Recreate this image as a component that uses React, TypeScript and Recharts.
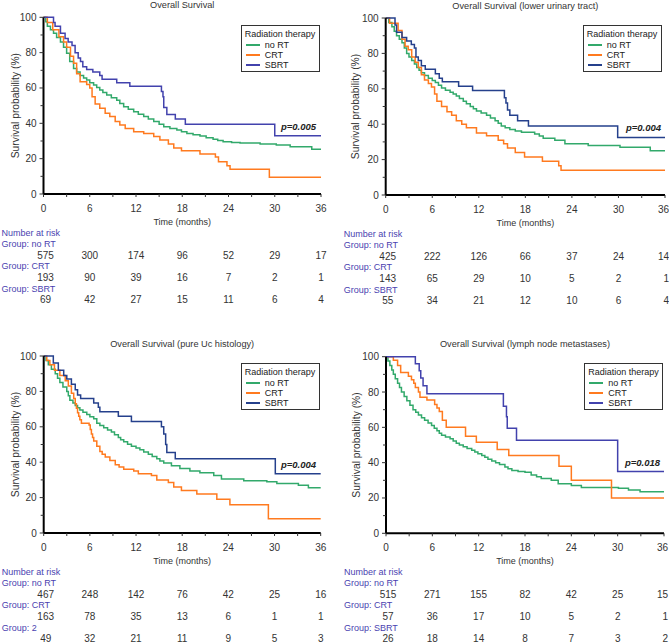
import { LineChart, Line, XAxis, YAxis, Legend } from 'recharts';

// ---- time grid shared by all panels ----
const xTicks = [0, 3, 6, 9, 12, 15, 18, 21, 24, 27, 30, 33, 36];
const yTicks = [0, 10, 20, 30, 40, 50, 60, 70, 80, 90, 100];
const riskMonths = [0, 6, 12, 18, 24, 30, 36];
const groupNames = ['no RT', 'CRT', 'SBRT'];

type Pt = [number, number];

// ---- Overall Survival ----
const osNoRT: Pt[] = [[0, 100], [0.3, 97.5], [0.5, 95], [0.9, 93], [1.3, 91], [1.7, 88.5], [2.2, 86], [2.6, 83], [3.0, 79.6], [3.4, 75], [3.9, 71], [4.3, 69], [4.75, 67], [5.2, 65.7], [5.6, 64.5], [6.0, 63], [6.5, 61.7], [6.9, 60.3], [7.3, 58.9], [7.7, 57.5], [8.2, 56], [8.8, 54.5], [9.5, 53], [9.9, 51.2], [10.4, 49.4], [11.0, 48], [11.7, 46.6], [12.3, 45.2], [13.0, 43.8], [13.6, 42.4], [14.3, 41], [15.0, 39.5], [15.6, 38], [16.4, 37.1], [17.3, 36.2], [17.9, 35.2], [18.6, 34.3], [19.4, 33.5], [20.3, 32.8], [21.1, 31.9], [22.0, 31], [22.6, 30.3], [23.3, 29.6], [24.4, 29.2], [25.5, 28.8], [28.1, 28.3], [30.2, 27.7], [32, 26.8], [34.8, 25.3], [36, 25.3]];
const osCRT: Pt[] = [[0, 100], [0.5, 97], [1.2, 93], [2.0, 89], [2.6, 86], [3.0, 83], [3.5, 78], [3.9, 74], [4.3, 68], [4.75, 63.5], [5.6, 62], [6.0, 60], [6.3, 55], [6.7, 51], [7.3, 48.5], [8.0, 45.7], [8.6, 43.8], [9.3, 41], [9.9, 39], [10.6, 37], [11.7, 35.3], [13.0, 34.3], [14.3, 32.5], [15.1, 30.6], [16.2, 28.3], [16.9, 26], [17.9, 24.5], [20.3, 22.6], [22.3, 21], [22.7, 18.3], [23.8, 16], [24.2, 14], [29.3, 9.5], [36, 9.5]];
const osSBRT: Pt[] = [[0, 100], [1.3, 97], [1.5, 95], [2.2, 91], [2.8, 88], [3.2, 86], [3.7, 84], [4.1, 80], [4.5, 77], [4.8, 75], [5.1, 72], [5.6, 70.5], [6.4, 69], [7.3, 67], [7.6, 65], [9.5, 63], [11.2, 61], [15.3, 58], [15.5, 55], [15.6, 49], [16.0, 45], [17.1, 42.5], [18.4, 39.5], [30.0, 33], [36, 33]];
const osRiskNoRT = [575, 300, 174, 96, 52, 29, 17];
const osRiskCRT = [193, 90, 39, 16, 7, 2, 1];
const osRiskSBRT = [69, 42, 27, 15, 11, 6, 4];

// ---- lower urinary tract ----
const lutNoRT: Pt[] = [[0, 100], [0.4, 97.5], [0.8, 95], [1.1, 92.5], [1.4, 90], [1.75, 88], [2.1, 86], [2.4, 83], [2.7, 80], [3.0, 78], [3.35, 76], [3.7, 74], [4.0, 72], [4.3, 70.5], [4.6, 69], [5.0, 67.5], [5.5, 66], [6.0, 64.7], [6.4, 63.5], [6.8, 62], [7.2, 60.5], [7.7, 59.2], [8.3, 58], [8.7, 57], [9.1, 56], [9.5, 54.5], [10.0, 53], [10.4, 51.5], [10.9, 50], [11.3, 48.7], [11.7, 47.5], [12.3, 46.3], [13.0, 45], [13.5, 43.5], [14.1, 42], [14.5, 40.5], [14.9, 39], [15.4, 38], [16.0, 37], [16.7, 36.2], [17.5, 35.5], [19.2, 34.5], [19.8, 33.3], [20.3, 32], [21.8, 31], [23.1, 29], [26.1, 28], [30.2, 27], [34.1, 25], [36, 25]];
const lutCRT: Pt[] = [[0, 100], [0.5, 97], [1.6, 93], [2.1, 88], [2.5, 84], [2.9, 82], [3.35, 78], [3.8, 75], [4.2, 72], [4.6, 68], [5.0, 65], [5.5, 63], [5.9, 61], [6.3, 57], [6.6, 53], [7.2, 50], [7.9, 47], [8.5, 45], [9.1, 42], [9.8, 40], [10.4, 38], [11.7, 35], [13.0, 33.5], [14.5, 31], [15.2, 29], [15.7, 26.5], [16.7, 24], [17.9, 21.5], [20.2, 19], [22.3, 16.5], [22.6, 14], [36, 14]];
const lutSBRT: Pt[] = [[0, 100], [1.2, 96], [1.4, 92], [2.1, 89], [2.7, 87], [3.3, 85], [3.7, 83], [3.9, 78], [4.2, 76], [4.6, 73], [5.1, 71], [6.4, 68.5], [6.9, 66], [7.3, 64], [9.4, 61.5], [11.2, 59], [15.3, 55], [15.5, 52], [15.7, 48], [16.0, 45], [17.0, 42], [18.4, 39], [29.9, 32.5], [36, 32.5]];
const lutRiskNoRT = [425, 222, 126, 66, 37, 24, 14];
const lutRiskCRT = [143, 65, 29, 10, 5, 2, 1];
const lutRiskSBRT = [55, 34, 21, 12, 10, 6, 4];

// ---- pure Uc histology ----
const ucNoRT: Pt[] = [[0, 100], [0.3, 97.5], [0.6, 95], [1.0, 92.5], [1.5, 90], [1.8, 87.5], [2.1, 85], [2.5, 82.5], [3.0, 80], [3.2, 77.5], [3.4, 75], [3.8, 73.5], [4.1, 72], [4.4, 70.8], [4.7, 69.5], [5.1, 68.2], [5.6, 67], [6.0, 65.7], [6.5, 64.5], [6.9, 62], [7.3, 60.8], [7.8, 59.5], [8.3, 58.2], [8.8, 57], [9.2, 55.5], [9.7, 54], [10.0, 52.7], [10.4, 51.5], [10.9, 50.2], [11.4, 49], [12.0, 48], [12.5, 47], [13.0, 45.8], [13.6, 44.5], [14.1, 43.2], [14.7, 42], [15.1, 40.7], [15.6, 39.5], [16.6, 38], [17.7, 36.5], [19.0, 35], [20.3, 34], [22.1, 32.5], [23.1, 30.5], [26.0, 29.5], [29.0, 29], [30.3, 28], [33.1, 27], [34.4, 25.5], [36, 25.5]];
const ucCRT: Pt[] = [[0, 100], [0.4, 97.5], [0.8, 95], [1.4, 92], [2.1, 89], [2.8, 86], [3.2, 83], [3.6, 79], [3.9, 76], [4.1, 73], [4.25, 70.5], [4.4, 68], [4.55, 66], [4.7, 64], [4.9, 62], [5.9, 61], [6.05, 58.5], [6.2, 56], [6.35, 54], [6.5, 52], [6.9, 49], [7.3, 46], [7.6, 44.5], [8.0, 43], [8.6, 41], [9.3, 38.5], [9.8, 37.3], [10.4, 36], [11.7, 35], [12.3, 33.5], [14.0, 32.5], [14.7, 30], [16.2, 28.5], [16.9, 26], [17.9, 24], [19.9, 22], [22.5, 19], [24.2, 16], [29.2, 8], [36, 8]];
const ucSBRT: Pt[] = [[0, 100], [1.25, 96], [1.9, 92], [2.6, 89], [3.0, 87], [3.6, 84], [4.1, 81], [4.4, 78], [4.8, 76], [6.5, 73.5], [7.1, 71], [7.3, 68.5], [9.7, 66], [11.4, 63], [15.3, 60], [15.6, 56], [15.85, 50], [16.0, 45.5], [17.1, 42], [30.1, 33.5], [36, 33.5]];
const ucRiskNoRT = [467, 248, 142, 76, 42, 25, 16];
const ucRiskCRT = [163, 78, 35, 13, 6, 1, 1];
const ucRiskSBRT = [49, 32, 21, 11, 9, 5, 3];

// ---- lymph node metastases ----
const lnNoRT: Pt[] = [[0, 100], [0.25, 97.5], [0.5, 95], [0.75, 92.5], [0.95, 90], [1.2, 87.5], [1.5, 85], [1.75, 82.5], [2.0, 80], [2.35, 77.5], [2.7, 75], [3.1, 72.5], [3.5, 70], [3.85, 68.5], [4.2, 67], [4.6, 65.5], [5.0, 64], [5.45, 62.5], [5.9, 61], [6.25, 59.5], [6.6, 58], [6.9, 56.7], [7.2, 55.5], [7.7, 54.5], [8.3, 53.5], [8.7, 52.2], [9.1, 51], [9.5, 50], [10.0, 49], [10.5, 48], [11.1, 47], [11.5, 46], [11.9, 45], [12.4, 44], [12.8, 43], [13.2, 42], [13.7, 41], [14.2, 40], [14.7, 39], [15.4, 37.5], [15.8, 36.5], [16.3, 35.5], [17.1, 35], [18.0, 34.5], [18.8, 33], [19.5, 32], [20.1, 31], [21.4, 30], [22.3, 28], [24.0, 27], [25.3, 26], [30.1, 25.5], [31.4, 24.5], [32.9, 23.5], [36, 23.5]];
const lnCRT: Pt[] = [[0, 100], [0.95, 98], [1.5, 95], [1.9, 91], [2.9, 89], [3.3, 87], [3.6, 85], [3.8, 82.5], [4.2, 80], [4.4, 77], [5.3, 75.5], [6.3, 73], [6.6, 71], [6.9, 69], [7.3, 64], [7.8, 60], [10.3, 55], [11.7, 51.5], [14.4, 47.5], [15.9, 44], [22.4, 38], [24.0, 30], [29.2, 20], [36, 20]];
const lnSBRT: Pt[] = [[0, 100], [3.8, 96], [4.3, 92], [4.5, 88], [4.8, 83.5], [5.3, 79], [15.2, 72], [15.6, 66], [15.7, 59.5], [16.9, 52.7], [30.0, 35], [36, 35]];
const lnRiskNoRT = [515, 271, 155, 82, 42, 25, 15];
const lnRiskCRT = [57, 36, 17, 10, 5, 2, 1];
const lnRiskSBRT = [26, 18, 14, 8, 7, 3, 2];

const FONT = '"Liberation Sans", Arial, sans-serif';
const GREEN = '#32a96b';
const ORANGE = '#ff7a1f';
const SLATE = '#4242ad';
const NAVY = '#25408c';
const LABEL_BLUE = '#4a3fb0';
const XAXIS_H = 20;

interface Box {
    left: number; top: number; w: number; h: number;
    plotL: number; plotR: number; plotT: number; plotB: number;
    yLabelX: number; legendX: number; legendY: number; pRight: number; pY: number;
}

interface PanelProps {
    box: Box;
    title: string;
    pValue: string;
    curves: Pt[][];
    risk: number[][];
    riskLabels: string[];
    sbrtColor: string;
}

const toRows = (pts: Pt[]) => pts.map(([t, s]) => ({ t, s }));

// eslint-disable-next-line @typescript-eslint/no-explicit-any
function XTick(props: any) {
    const { x, y, payload, risk, riskLabels, tightRight } = props;
    const v = payload.value as number;
    const major = v % 6 === 0;
    const idx = riskMonths.indexOf(v);
    const txt = { fontFamily: FONT, dominantBaseline: 'central' as const };
    // last column sits against the page edge on the right-hand panels
    const edge = v === 36 && tightRight;
    const tx = edge ? x + 4 : x;
    const anchor = edge ? 'end' : 'middle';
    return (
        <g>
            <line x1={x} x2={x} y1={y} y2={y + 3} stroke="#333" strokeWidth={1} />
            {major && (
                <text x={tx} y={y + 14} textAnchor={anchor} fontSize={10} fill="#333" {...txt}>{v}</text>
            )}
            {v === 18 && (
                <text x={x} y={y + 27.5} textAnchor="middle" fontSize={9} fill="#333" {...txt}>Time (months)</text>
            )}
            {v === 0 && (
                <g>
                    <text x={x - 42} y={y + 39} fontSize={9} fill={LABEL_BLUE} {...txt}>Number at risk</text>
                    {riskLabels.map((g: string, i: number) => (
                        <text key={g + i} x={x - 42} y={y + 49.5 + i * 22.5} fontSize={9} fill={LABEL_BLUE} {...txt}>
                            Group: {g}
                        </text>
                    ))}
                </g>
            )}
            {idx >= 0 &&
                risk.map((row: number[], i: number) => (
                    <text
                        key={i}
                        x={v === 0 ? x + 2 : tx}
                        y={y + 61.5 + i * 22}
                        textAnchor={anchor}
                        fontSize={10}
                        fill="#333"
                        {...txt}
                    >
                        {row[idx]}
                    </text>
                ))}
        </g>
    );
}

// eslint-disable-next-line @typescript-eslint/no-explicit-any
function YTick(props: any) {
    const { x, y, payload } = props;
    const v = payload.value as number;
    const major = v % 20 === 0;
    return (
        <g>
            <line x1={x - (major ? 4 : 3)} x2={x} y1={y} y2={y} stroke="#333" strokeWidth={1} />
            {major && (
                <text x={x - 7} y={y} textAnchor="end" dominantBaseline="central" fontSize={10} fill="#333" fontFamily={FONT}>
                    {v}
                </text>
            )}
        </g>
    );
}

function SurvivalPanel({ box, title, pValue, curves, risk, riskLabels, sbrtColor }: PanelProps) {
    const colors = [GREEN, ORANGE, sbrtColor];
    const margin = {
        top: box.plotT - box.top,
        right: box.left + box.w - box.plotR,
        left: 0,
        bottom: box.top + box.h - box.plotB - XAXIS_H,
    };
    const tightRight = margin.right < 8;
    const plotCx = (box.plotL + box.plotR) / 2 - box.left;
    return (
        <div style={{ position: 'absolute', left: box.left, top: box.top, width: box.w, height: box.h }}>
            <div
                style={{
                    position: 'absolute', left: plotCx - 120, width: 240, top: box.plotT - box.top - 18.5,
                    lineHeight: '12px', textAlign: 'center', fontSize: 9.2, color: '#333', fontFamily: FONT,
                }}
            >
                {title}
            </div>
            <LineChart width={box.w} height={box.h} margin={margin}>
                <XAxis
                    type="number"
                    dataKey="t"
                    domain={[0, 36]}
                    ticks={xTicks}
                    interval={0}
                    height={XAXIS_H}
                    tickSize={0}
                    tickMargin={0}
                    tickLine={false}
                    axisLine={{ stroke: '#000', strokeWidth: 2 }}
                    tick={(p: object) => <XTick {...p} risk={risk} riskLabels={riskLabels} tightRight={tightRight} />}
                    allowDuplicatedCategory={false}
                />
                <YAxis
                    type="number"
                    domain={[0, 100]}
                    ticks={yTicks}
                    interval={0}
                    width={box.plotL - box.left}
                    tickSize={0}
                    tickMargin={0}
                    tickLine={false}
                    axisLine={{ stroke: '#000', strokeWidth: 2 }}
                    tick={(p: object) => <YTick {...p} />}
                    label={{
                        value: 'Survival probability (%)',
                        angle: -90,
                        position: 'insideLeft',
                        offset: box.yLabelX,
                        style: { textAnchor: 'middle', fontSize: 10.3, fill: '#333', fontFamily: FONT },
                    }}
                />
                <Legend
                    layout="vertical"
                    align="center"
                    verticalAlign="middle"
                    wrapperStyle={{ left: box.legendX - box.left, top: box.legendY - box.top, width: 79 }}
                    // eslint-disable-next-line @typescript-eslint/no-explicit-any
                    content={({ payload }: any) => {
                        const items = [...(payload || [])].sort(
                            (a: { value: string }, b: { value: string }) => groupNames.indexOf(a.value) - groupNames.indexOf(b.value),
                        );
                        return (
                            <div
                                style={{
                                    border: '1px solid #333', background: '#fff', width: 79, height: 47,
                                    boxSizing: 'border-box', padding: '2px 0 0 3px', fontSize: 9, color: '#222', fontFamily: FONT,
                                }}
                            >
                                <div style={{ lineHeight: '12px', whiteSpace: 'nowrap' }}>Radiation therapy</div>
                                {items.map((e: { value: string; color: string }) => (
                                    <div key={e.value} style={{ display: 'flex', alignItems: 'center', height: 10, lineHeight: '10px' }}>
                                        <span style={{ display: 'inline-block', width: 14, height: 2, background: e.color, marginLeft: 1, marginRight: 5 }} />
                                        {e.value}
                                    </div>
                                ))}
                            </div>
                        );
                    }}
                />
                {curves.map((c, i) => (
                    <Line
                        key={groupNames[i]}
                        name={groupNames[i]}
                        data={toRows(c)}
                        dataKey="s"
                        type="stepAfter"
                        stroke={colors[i]}
                        strokeWidth={1.5}
                        dot={false}
                        activeDot={false}
                        isAnimationActive={false}
                    />
                ))}
            </LineChart>
            <div
                style={{
                    position: 'absolute', left: box.pRight - box.left - 60, width: 60, top: box.pY - box.top - 6,
                    lineHeight: '12px', textAlign: 'right', fontSize: 9.5, fontWeight: 'bold', fontStyle: 'italic',
                    color: '#222', fontFamily: FONT,
                }}
            >
                {pValue}
            </div>
        </div>
    );
}

const boxes: Box[] = [
    { left: 0, top: 0, w: 334, h: 318, plotL: 43.5, plotR: 321, plotT: 17.3, plotB: 194, yLabelX: 15, legendX: 240.7, legendY: 24.7, pRight: 316, pY: 126.7 },
    { left: 335, top: 0, w: 334, h: 318, plotL: 385.7, plotR: 665, plotT: 18, plotB: 195, yLabelX: 20, legendX: 582.7, legendY: 24.7, pRight: 661, pY: 128 },
    { left: 0, top: 318, w: 334, h: 325, plotL: 43.7, plotR: 320.7, plotT: 356, plotB: 533, yLabelX: 15, legendX: 240.7, legendY: 363.3, pRight: 316, pY: 465 },
    { left: 335, top: 318, w: 334, h: 325, plotL: 386, plotR: 664, plotT: 356.7, plotB: 533.3, yLabelX: 21, legendX: 584.3, legendY: 363.3, pRight: 660, pY: 463.3 },
];

export default function App() {
    return (
        <div style={{ position: 'absolute', left: 0, top: 0, width: 669, height: 643, background: '#fff', fontFamily: FONT }}>
            <style>{'.recharts-surface { overflow: visible; }'}</style>
            <SurvivalPanel
                box={boxes[0]}
                title="Overall Survival"
                pValue="p=0.005"
                curves={[osNoRT, osCRT, osSBRT]}
                risk={[osRiskNoRT, osRiskCRT, osRiskSBRT]}
                riskLabels={groupNames}
                sbrtColor={SLATE}
            />
            <SurvivalPanel
                box={boxes[1]}
                title="Overall Survival (lower urinary tract)"
                pValue="p=0.004"
                curves={[lutNoRT, lutCRT, lutSBRT]}
                risk={[lutRiskNoRT, lutRiskCRT, lutRiskSBRT]}
                riskLabels={groupNames}
                sbrtColor={NAVY}
            />
            <SurvivalPanel
                box={boxes[2]}
                title="Overall Survival (pure Uc histology)"
                pValue="p=0.004"
                curves={[ucNoRT, ucCRT, ucSBRT]}
                risk={[ucRiskNoRT, ucRiskCRT, ucRiskSBRT]}
                riskLabels={['no RT', 'CRT', '2']}
                sbrtColor={NAVY}
            />
            <SurvivalPanel
                box={boxes[3]}
                title="Overall Survival (lymph node metastases)"
                pValue="p=0.018"
                curves={[lnNoRT, lnCRT, lnSBRT]}
                risk={[lnRiskNoRT, lnRiskCRT, lnRiskSBRT]}
                riskLabels={groupNames}
                sbrtColor={SLATE}
            />
        </div>
    );
}
